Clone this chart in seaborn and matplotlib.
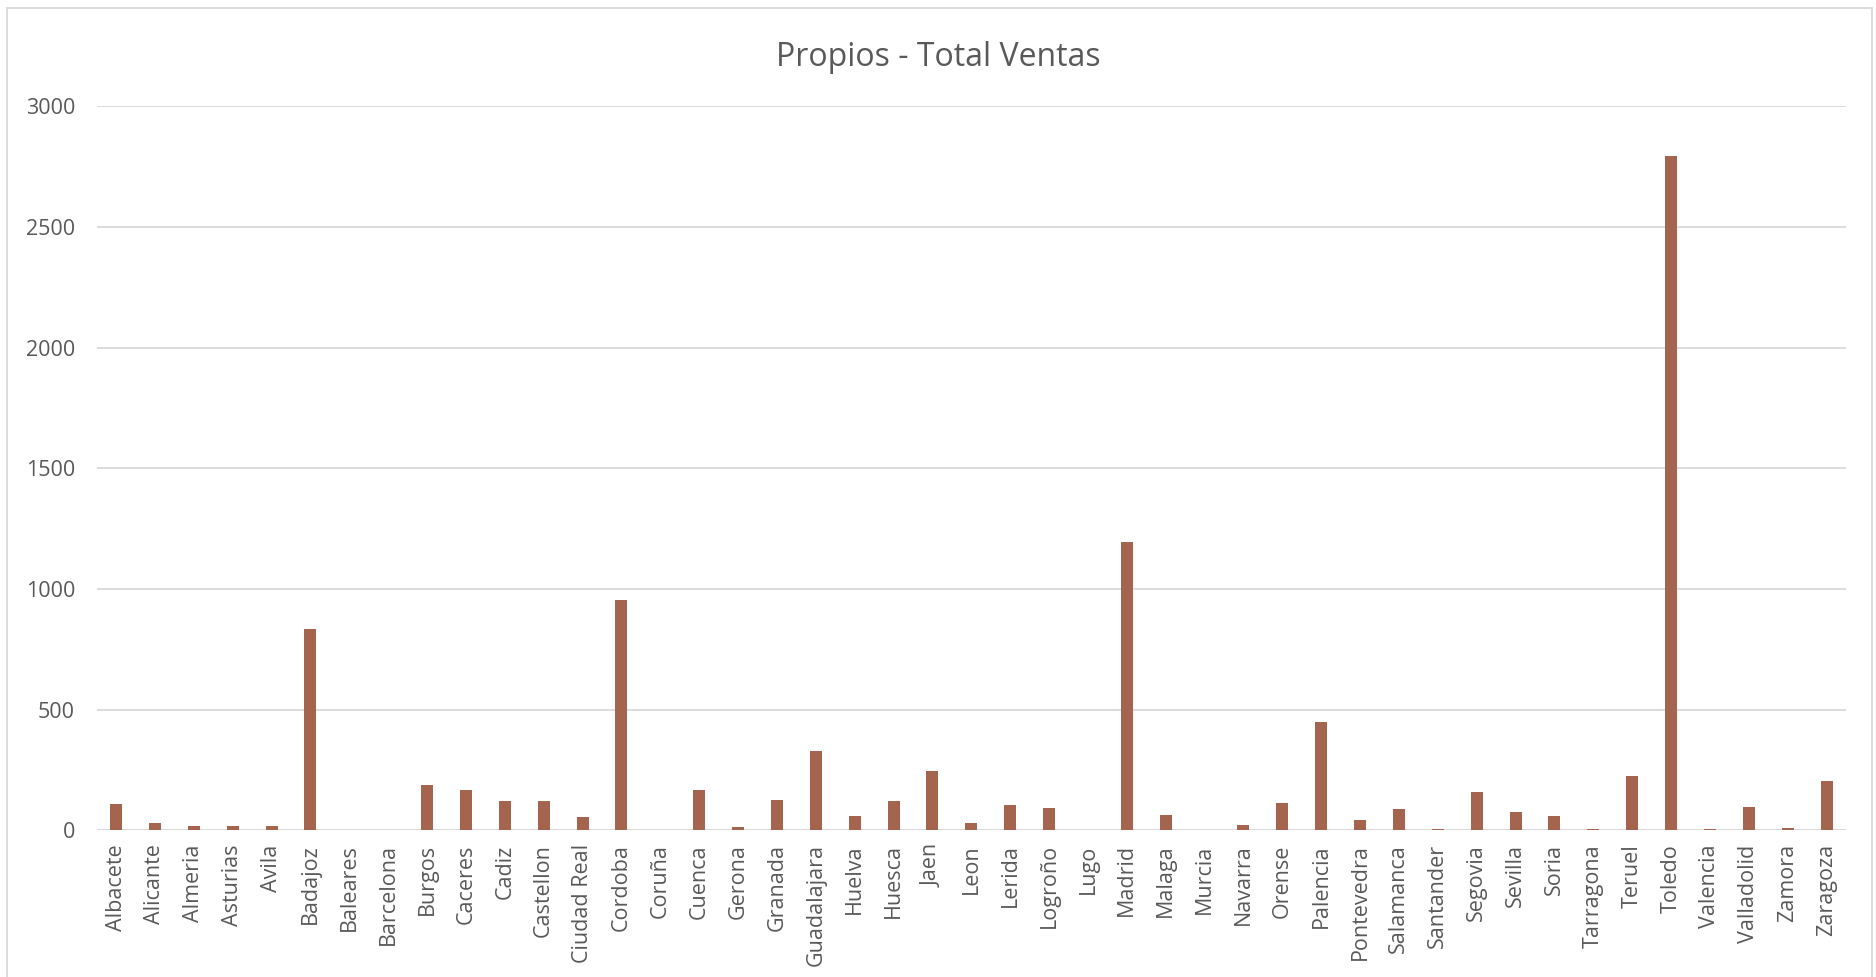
import matplotlib
matplotlib.use('Agg')
import numpy as np
import pandas as pd
import seaborn as sns
import matplotlib.pyplot as plt
from matplotlib.patches import Rectangle

provincias = ["Albacete", "Alicante", "Almeria", "Asturias", "Avila", "Badajoz", "Baleares",
              "Barcelona", "Burgos", "Caceres", "Cadiz", "Castellon", "Ciudad Real", "Cordoba",
              "Coruña", "Cuenca", "Gerona", "Granada", "Guadalajara", "Huelva", "Huesca", "Jaen",
              "Leon", "Lerida", "Logroño", "Lugo", "Madrid", "Malaga", "Murcia", "Navarra",
              "Orense", "Palencia", "Pontevedra", "Salamanca", "Santander", "Segovia", "Sevilla",
              "Soria", "Tarragona", "Teruel", "Toledo", "Valencia", "Valladolid", "Zamora",
              "Zaragoza"]
ventas = [108, 29, 18, 18, 18, 833, 0,
          0, 189, 168, 122, 122, 54, 953,
          0, 168, 15, 125, 329, 60, 122, 247,
          29, 105, 94, 0, 1194, 64, 0, 21,
          114, 450, 44, 87, 5, 160, 76,
          60, 8, 226, 2795, 5, 97, 12,
          205]
yticks = [0, 500, 1000, 1500, 2000, 2500, 3000]

df = pd.DataFrame({"provincia": provincias, "ventas": ventas})

sns.set_theme(style="white")
plt.rcParams['font.family'] = ['Open Sans', 'DejaVu Sans']

text_col = "#595959"
grid_col = "#D9D9D9"

fig = plt.figure(figsize=(18.76, 9.77), dpi=100)
ax = fig.add_axes([0.0515, 0.150, 0.9325, 0.741])

sns.barplot(data=df, x="provincia", y="ventas", color="#A5644E", width=0.31,
            saturation=1, linewidth=0, ax=ax)
for p in ax.patches:
    p.set_zorder(5)

ax.set_ylim(0, 3000)
ax.set_yticks(yticks)
ax.set_xlim(-0.5, len(provincias) - 0.5)
ax.set_axisbelow(True)
ax.yaxis.grid(True, color=grid_col, linewidth=1.3, zorder=0)
ax.axhline(0, color=grid_col, linewidth=1.8, zorder=1)
for s in ax.spines.values():
    s.set_visible(False)
ax.set_xlabel("")
ax.set_ylabel("")
ax.tick_params(axis='x', length=0, pad=10, labelsize=15.5, labelcolor=text_col, rotation=90)
ax.tick_params(axis='y', length=0, pad=15.5, labelsize=15.5, labelcolor=text_col)

fig.text(0.5, 0.941, "Propios - Total Ventas", ha="center", va="center",
         fontsize=23, color=text_col)

# chart border
fig.patches.append(Rectangle((7 / 1876, -0.05), 1865 / 1876, 1.05 - 8 / 977,
                             transform=fig.transFigure, fill=False,
                             edgecolor=grid_col, linewidth=1.3))

fig.savefig("out.png", dpi=100, facecolor="white")
